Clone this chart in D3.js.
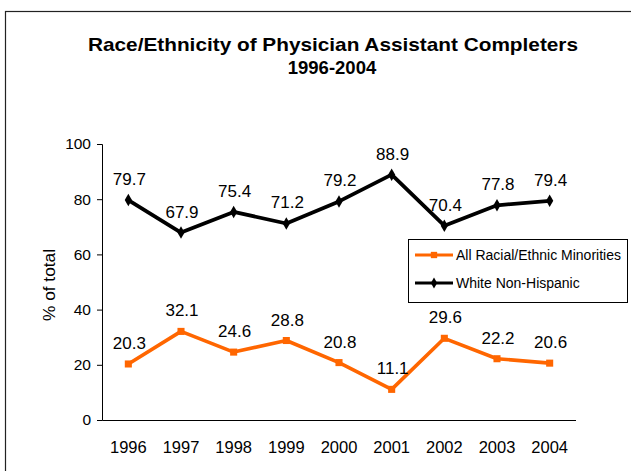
<!DOCTYPE html>
<html><head><meta charset="utf-8">
<script src="https://cdn.jsdelivr.net/npm/d3@7"></script>
<style>body{margin:0;background:#fff}svg{display:block;font-family:Arial,"Liberation Sans",sans-serif}</style>
</head><body>
<svg id="c" width="631" height="471"></svg>
<script>
const years = ["1996","1997","1998","1999","2000","2001","2002","2003","2004"];
const minorities = [20.3,32.1,24.6,28.8,20.8,11.1,29.6,22.2,20.6];
const white = [79.7,67.9,75.4,71.2,79.2,88.9,70.4,77.8,79.4];
const yTicks = [0,20,40,60,80,100];
const seriesNames = ["All Racial/Ethnic Minorities","White Non-Hispanic"];

const FF = "Arial,'Liberation Sans',sans-serif";
const svg = d3.select("#c");
svg.append("rect").attr("x",5.5).attr("y",11.5).attr("width",700).attr("height",600)
  .attr("fill","none").attr("stroke","#222").attr("stroke-width",1.2);

svg.append("text").attr("x",333).attr("y",51).attr("text-anchor","middle")
  .attr("textLength",490).attr("lengthAdjust","spacingAndGlyphs")
  .style("font-size","18.5px").attr("font-weight","bold").text("Race/Ethnicity of Physician Assistant Completers");
svg.append("text").attr("x",332).attr("y",74).attr("text-anchor","middle")
  .style("font-size","18.5px").attr("font-weight","bold").text("1996-2004");

const x = d3.scaleBand().domain(years).range([102,576]);
const y = d3.scaleLinear().domain([0,100]).range([420,144]);

const ya = svg.append("g").attr("transform","translate(102,0)")
  .call(d3.axisLeft(y).tickValues(yTicks).tickSize(5).tickPadding(6));
ya.selectAll("text").style("font-size","15.5px").style("font-family",FF).attr("fill","#000");
ya.selectAll("path,line").attr("stroke","#000");
ya.select(".domain").attr("d","M-5,144.5H0.5V420.5H-5");

const xa = svg.append("g").attr("transform","translate(0,420)")
  .call(d3.axisBottom(x).tickSize(0).tickPadding(21));
xa.selectAll("text").style("font-size","16.5px").style("font-family",FF).attr("fill","#000");
xa.select(".domain").attr("stroke","#000").attr("d","M102.5,0.5H576");

svg.append("text").attr("transform","translate(55,285) rotate(-90)").attr("text-anchor","middle")
  .style("font-size","16px").attr("textLength",72).attr("lengthAdjust","spacingAndGlyphs").text("% of total");

const cx = d => x(d) + x.bandwidth()/2;
const line = d3.line().x((v,i)=>cx(years[i])).y(v=>y(v));

const series = [
  {vals: minorities, color:"#FF6600", sym: d3.symbolSquare, size: 50, w: 3.6},
  {vals: white, color:"#000", sym: d3.symbolDiamond, size: 45, w: 3.8}
];
series.forEach(s => {
  svg.append("path").attr("d", line(s.vals)).attr("fill","none")
    .attr("stroke", s.color).attr("stroke-width",s.w).attr("stroke-linejoin","round");
  svg.append("g").selectAll("path").data(s.vals).join("path")
    .attr("transform",(v,i)=>`translate(${cx(years[i])},${y(v)})`)
    .attr("d", d3.symbol().type(s.sym).size(s.size)).attr("fill", s.color);
  svg.append("g").selectAll("text").data(s.vals).join("text")
    .attr("x",(v,i)=>cx(years[i])+1).attr("y",v=>y(v)-15)
    .attr("text-anchor","middle").style("font-size","17px").text(v=>v.toFixed(1));
});

// legend
const lg = svg.append("g");
lg.append("rect").attr("x",408.5).attr("y",239.5).attr("width",219).attr("height",63)
  .attr("fill","#fff").attr("stroke","#000").attr("stroke-width",1);
[{c:"#FF6600",sym:d3.symbolSquare,size:40,name:seriesNames[0],yy:255},
 {c:"#000",sym:d3.symbolDiamond,size:35,name:seriesNames[1],yy:283}].forEach(d=>{
  lg.append("line").attr("x1",415).attr("x2",453).attr("y1",d.yy).attr("y2",d.yy)
    .attr("stroke",d.c).attr("stroke-width",3);
  lg.append("path").attr("transform",`translate(434,${d.yy})`)
    .attr("d",d3.symbol().type(d.sym).size(d.size)).attr("fill",d.c);
  lg.append("text").attr("x",456).attr("y",d.yy+5).style("font-size","14px").text(d.name);
});
</script>
</body></html>
